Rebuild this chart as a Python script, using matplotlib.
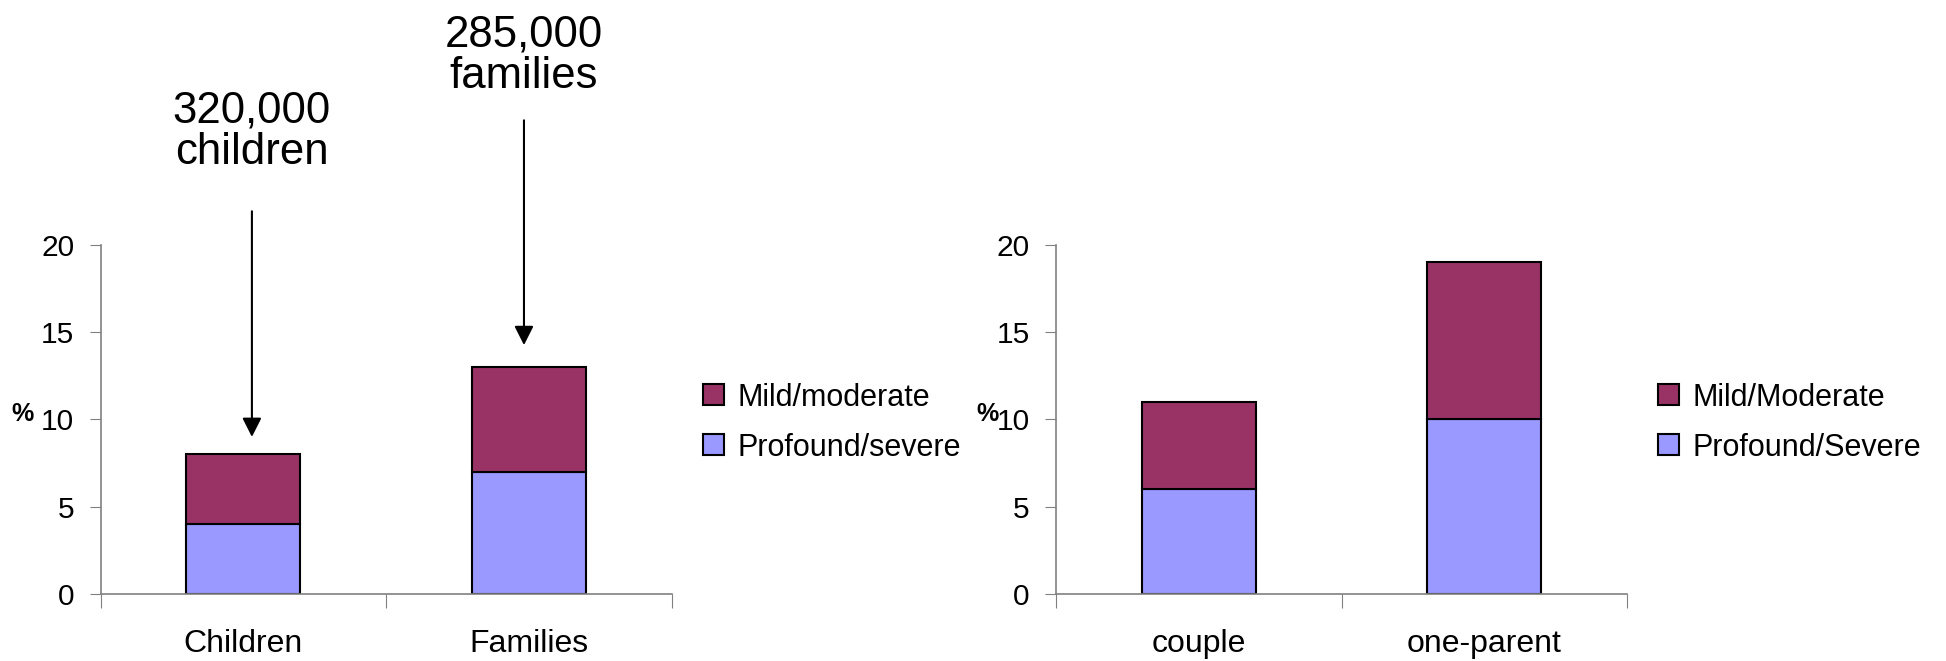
import matplotlib.pyplot as plt
from matplotlib.patches import Patch

plt.rcParams['font.family'] = ['Liberation Sans', 'DejaVu Sans']

# left panel: children / families
cats_left = ['Children', 'Families']
severe_left = [4, 7]
mild_left = [4, 6]
legend_left = ['Mild/moderate', 'Profound/severe']

# right panel: family type
cats_right = ['couple', 'one-parent']
severe_right = [6, 10]
mild_right = [5, 9]
legend_right = ['Mild/Moderate', 'Profound/Severe']

# callouts above the left bars
callouts = ['320,000\nchildren', '285,000\nfamilies']

MILD = '#993366'
SEVERE = '#9999FF'
AXCOL = '#808080'

fig = plt.figure(figsize=(19.46, 6.61), dpi=100)
ax1 = fig.add_axes([0.0517, 0.1008, 0.2934, 0.5293])
ax2 = fig.add_axes([0.5427, 0.1008, 0.2934, 0.5293])


def draw_panel(ax, cats, severe, mild, labels, pct_x):
    pos = [i + 0.5 for i in range(len(cats))]
    ax.bar(pos, severe, width=0.4, color=SEVERE, edgecolor='black', linewidth=1.5)
    ax.bar(pos, mild, width=0.4, bottom=severe, color=MILD, edgecolor='black', linewidth=1.5)
    ax.set_xlim(0, len(cats))
    ax.set_ylim(0, 20)
    ax.set_yticks([0, 5, 10, 15, 20])
    ax.set_xticks(range(len(cats) + 1))
    ax.set_xticklabels([])
    ax.set_xticks(pos, minor=True)
    ax.set_xticklabels(cats, minor=True, fontsize=23)
    ax.tick_params(axis='x', which='major', length=10, color=AXCOL, direction='out')
    ax.tick_params(axis='x', which='minor', length=0, pad=25)
    ax.tick_params(axis='y', length=8, color=AXCOL, pad=11, labelsize=21.5)
    for s in ['top', 'right']:
        ax.spines[s].set_visible(False)
    for s in ['left', 'bottom']:
        ax.spines[s].set_color(AXCOL)
        ax.spines[s].set_linewidth(1.2)
    ax.set_ylabel('%', rotation=0, fontsize=18, fontweight='bold', va='center')
    ax.yaxis.set_label_coords(pct_x, 0.515)
    handles = [Patch(facecolor=MILD, edgecolor='black', linewidth=1.5),
               Patch(facecolor=SEVERE, edgecolor='black', linewidth=1.5)]
    ax.legend(handles, labels, loc='center left', bbox_to_anchor=(1.055, 0.491),
              frameon=False, fontsize=22, handlelength=0.68, handleheight=0.68,
              handletextpad=0.45, labelspacing=0.66, borderaxespad=0, borderpad=0)


draw_panel(ax1, cats_left, severe_left, mild_left, legend_left, -0.137)
draw_panel(ax2, cats_right, severe_right, mild_right, legend_right, -0.12)

# arrows and callout text on the left panel
arrow_x = [0.53, 1.483]
tips = [9.0, 14.25]
tails = [21.9, 27.1]
text_y = [24.1, 28.45]
for i, txt in enumerate(callouts):
    x = arrow_x[i]
    ax1.annotate('', xy=(x, tips[i]), xytext=(x, tails[i]), annotation_clip=False,
                 arrowprops=dict(arrowstyle='-|>,head_length=1.15,head_width=0.58',
                                 color='black', lw=1.5, shrinkA=0, shrinkB=0))
    ax1.text(x, text_y[i], txt, ha='center', va='bottom', fontsize=31.5,
             linespacing=1.0, clip_on=False)

plt.savefig('out.png', dpi=100)
